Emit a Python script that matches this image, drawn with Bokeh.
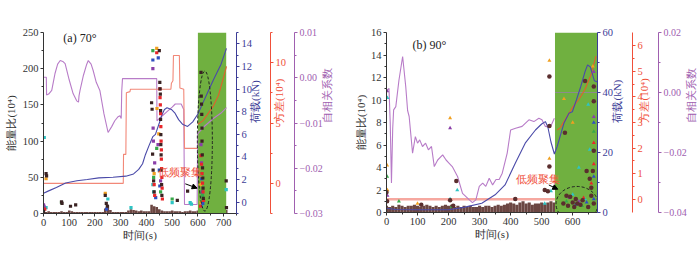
import math
from bokeh.plotting import figure
from bokeh.models import Range1d, LinearAxis, FixedTicker, Arrow, NormalHead, Label
from bokeh.layouts import row
from bokeh.embed import file_html
from bokeh.resources import INLINE

SERIF = "Liberation Serif"

# ---------------- Panel (a) 70 deg ----------------
a_bar_t = [0, 10, 20, 30, 40, 50, 60, 70, 80, 90,
           100, 110, 120, 130, 140, 150, 160, 170, 180, 190,
           200, 210, 220, 230, 240, 250, 260, 270, 280, 290,
           300, 310, 320, 330, 340, 350, 360, 370, 380, 390,
           400, 410, 420, 430, 440, 450, 460, 470, 480, 490,
           500, 510, 520, 530, 540, 550, 560, 570, 580, 590,
           600, 610, 620, 630, 640, 650, 660, 670, 680, 690, 700, 710]
a_bar_v = [4, 2, 3, 2, 2, 2, 2, 3, 2, 2,
           4, 3, 2, 2, 2, 2, 2, 2, 2, 2,
           2, 2, 2, 2, 7, 12, 5, 2, 2, 2,
           2, 2, 2, 4, 6, 5, 4, 3, 4, 3,
           3, 3, 12, 10, 9, 6, 4, 3, 3, 3,
           4, 3, 3, 3, 2, 3, 3, 4, 3, 3,
           4, 6, 5, 4, 3, 3, 3, 3, 3, 3, 3, 5]

a_dk_t = [0, 10, 12, 70, 72, 105, 125, 240, 244, 248, 420, 422, 424, 426, 428, 430,
          450, 452, 453, 454, 455, 455, 456, 456, 457, 458, 459, 460, 520, 560,
          612, 613, 614, 615, 616, 616, 617, 618, 619, 620, 621, 710, 711]
a_dk_v = [3, 55, 52, 16, 14, 10, 12, 25, 14, 10, 153, 144, 82, 60, 45, 30,
          225, 181, 172, 165, 142, 130, 109, 95, 81, 60, 40, 25, 18, 31,
          195, 162, 151, 137, 118, 100, 81, 63, 49, 35, 21, 45, 8]
a_rd_t = [440, 452, 453, 454, 455, 456, 457, 458, 458, 459, 460, 461, 462, 430, 432,
          612, 614, 616, 618, 620, 622, 610, 5]
a_rd_v = [222, 172, 160, 150, 138, 120, 100, 88, 75, 62, 50, 35, 20, 40, 25,
          80, 68, 55, 42, 30, 18, 10, 6]
a_bl_t = [425, 446, 450, 452, 436, 615, 617, 619, 0, 245]
a_bl_v = [212, 215, 60, 38, 22, 48, 30, 14, 8, 6]
a_gr_t = [425, 440, 500, 70, 615, 618, 0, 428, 455]
a_gr_v = [225, 90, 20, 15, 55, 25, 5, 50, 30]
a_pu_t = [425, 426, 427, 0, 2, 445, 612, 614, 455, 432]
a_pu_v = [200, 118, 100, 12, 10, 95, 95, 70, 45, 70]
a_or_t = [440, 441, 240, 10, 610, 612, 448, 430]
a_or_v = [228, 145, 28, 48, 40, 15, 110, 55]
a_cy_t = [3, 10, 340, 500, 570, 575, 710, 425, 428, 615, 250]
a_cy_v = [105, 8, 8, 15, 15, 13, 33, 40, 30, 10, 20]

a_load_t = [0, 20, 50, 86, 130, 170, 215, 270, 320, 350, 370, 385, 396, 410, 425, 435,
            450, 460, 470, 480, 497, 510, 525, 540, 560, 580, 600, 620, 640, 660, 690, 711]
a_load_v = [0.8, 1.0, 1.3, 1.7, 1.9, 2.0, 2.15, 2.2, 2.3, 2.5, 2.9, 3.4, 4.2, 5.0, 5.8, 6.0,
            7.0, 7.7, 8.2, 8.35, 8.2, 7.9, 7.3, 6.9, 6.7, 7.1, 7.8, 8.8, 9.8, 10.8, 12.2, 13.6]

a_var_t = [0, 310, 311, 320, 322, 336, 338, 495, 497, 503, 505, 528, 530, 545, 548, 597]
a_var_v = [0, 0, 2.4, 2.4, 7.5, 7.6, 7.8, 7.8, 8.3, 8.5, 10.6, 10.6, 7.9, 7.8, 2.9, 2.9]
a_var2_t = [600, 620, 640, 660, 680, 700, 711]
a_var2_v = [4.9, 5.2, 5.8, 6.4, 7.3, 8.8, 9.7]

a_ac_t = [0, 11, 12, 20, 32, 45, 55, 65, 75, 84, 100, 115, 129, 136, 138, 142, 155, 168, 174, 185,
          193, 205, 219, 235, 251, 265, 277, 290, 297, 302, 304, 307, 440, 441, 460, 480, 500, 512, 535, 545,
          548, 597, 599, 620, 640, 660, 690, 711]
a_ac_v = [0.0001, 0.0001, -0.0038, -0.0036, -0.0028, 0.0010, 0.0030, 0.0038, 0.0036, 0.0031,
          -0.0005, -0.0035, -0.0051, -0.0054, -0.0040, -0.0028, 0.0005, 0.0030, 0.0038, 0.0030,
          0.0016, -0.0010, -0.0028, -0.0080, -0.0121, -0.0108, -0.0095, -0.0086, -0.0084, -0.0090,
          -0.0030, -0.0002, -0.0002, -0.0095, -0.0085, -0.0075, -0.0065, -0.0058, -0.0058, -0.0070,
          -0.0280, -0.0280, -0.0124, -0.0110, -0.0100, -0.0090, -0.0078, -0.0066]

a_green = [600, 710]

# ---------------- Panel (b) 90 deg ----------------
b_bar_t = [0, 10, 20, 30, 40, 50, 60, 70, 80, 90,
           100, 110, 120, 130, 140, 150, 160, 170, 180, 190,
           200, 210, 220, 230, 240, 250, 260, 270, 280, 290,
           300, 310, 320, 330, 340, 350, 360, 370, 380, 390,
           400, 410, 420, 430, 440, 450, 460, 470, 480, 490,
           500, 510, 520, 530, 540, 550, 560, 570, 580, 590,
           600, 610, 620, 630, 640, 650, 660, 670, 680]
b_bar_v = [0.6, 0.5, 0.6, 0.5, 0.7, 0.6, 0.5, 0.6, 0.6, 0.7,
           0.6, 0.5, 0.6, 0.7, 0.6, 0.5, 0.6, 0.5, 0.6, 0.7,
           0.6, 0.7, 0.5, 0.6, 0.5, 0.6, 0.5, 0.6, 0.5, 0.5,
           0.6, 0.5, 0.6, 0.6, 0.5, 0.6, 0.7, 0.6, 0.7, 0.8,
           0.9, 0.8, 0.7, 0.9, 1.0, 0.8, 0.9, 0.7, 0.8, 0.8,
           0.9, 0.8, 0.9, 1.0, 0.9, 0.9, 0.7, 0.6, 0.5, 0.6,
           0.5, 0.6, 0.5, 0.6, 0.7, 0.5, 0.6, 0.5, 0.6]

b_dk_t = [0, 2, 112, 205, 215, 225, 415, 510, 520, 525, 525, 525, 575, 640, 645, 655, 660, 665, 668, 668,
          668, 668, 600, 610, 585, 592, 625, 632, 650, 605, 615, 580, 570, 660]
b_dk_v = [1.8, 1.0, 0.7, 1.1, 0.6, 2.8, 1.2, 2.0, 1.9, 12.1, 7.7, 4.1, 7.1, 11.7, 3.7, 3.0, 1.5, 3.7, 11.2, 9.9,
          5.5, 0.8, 0.9, 1.2, 0.6, 1.4, 0.7, 1.1, 0.5, 0.5, 0.8, 1.5, 0.8, 2.2]
b_or_t = [2, 205, 100, 525, 525, 572, 600, 665, 3]
b_or_v = [4.2, 8.4, 0.8, 13.5, 4.8, 10.1, 8.0, 13.0, 2.0]
b_pu_t = [2, 205, 668, 668, 590, 620, 3]
b_pu_v = [10.8, 7.5, 12.5, 8.5, 1.3, 1.0, 1.5]
b_cy_t = [3, 205, 228, 510, 620, 650, 655, 530, 600, 640]
b_cy_v = [10.2, 1.2, 2.0, 0.8, 4.0, 9.6, 5.6, 1.9, 1.6, 1.2]
b_gr_t = [2, 40, 668, 210, 580, 630]
b_gr_v = [3.2, 1.0, 7.2, 0.5, 1.0, 0.6]
b_bl_t = [668, 668, 668, 610, 645]
b_bl_v = [8.0, 3.2, 1.2, 0.7, 0.9]
b_rd_t = [668, 668, 660, 635]
b_rd_v = [6.2, 4.3, 2.6, 1.3]

b_load_t = [0, 30, 100, 200, 253, 307, 350, 382, 415, 447, 480, 500, 512, 520, 530, 541, 550, 572, 588, 599,
            612, 626, 640, 648, 657, 670, 680]
b_load_v = [1.4, 1.0, 0.9, 0.9, 1.8, 3.1, 5.9, 9.2, 16.4, 23.1, 27.5, 29.5, 30.3, 28.5, 23.5, 19.5, 22.0, 29.8, 33.1, 33.6,
            37.5, 42.0, 47.0, 49.2, 48.5, 43.9, 43.5]

b_var_t = [0, 543]
b_var_v = [0.0, 0.0]
b_var2_t = [550, 560, 580, 600, 620, 640, 660, 675]
b_var2_v = [2.7, 2.8, 3.2, 3.6, 3.9, 4.3, 4.9, 5.6]

b_ac_t = [0, 8, 12, 16, 20, 23, 30, 40, 52, 62, 68, 73, 84, 93, 100, 107, 116, 126, 135, 145,
          154, 165, 181, 192, 202, 212, 229, 245, 267, 277, 288, 299, 310, 320, 331, 342, 353, 363, 373, 389,
          400, 416, 437, 459, 475, 491, 501, 512, 528, 541]
b_ac_v = [0.0004, 0.0014, -0.010, -0.0302, -0.012, -0.0058, -0.0047, 0.004, 0.012, 0.002,
          -0.006, -0.008, -0.0202, -0.0147, -0.0169, -0.0158, -0.018, -0.0169, -0.0191, -0.018,
          -0.0247, -0.0225, -0.0208, -0.0225, -0.0236, -0.0247, -0.028, -0.0336, -0.0358, -0.0367,
          -0.0358, -0.0313, -0.0302, -0.0313, -0.0286, -0.0308, -0.029, -0.029, -0.0269, -0.0202,
          -0.0125, -0.0119, -0.0113, -0.0091, -0.0097, -0.0086, -0.0091, -0.0113, -0.0116, -0.0086]
b_ac2_t = [543, 680]
b_ac2_v = [0.0, 0.0]

b_green = [543, 680]

# ---------------- colours ----------------
C_AXIS = "#333333"
C_BLUE = "#3c3c96"
C_RED = "#f0503a"
C_PURP = "#a060b0"
C_BROWN = "#6b4642"
C_GREEN = "#70b040"
C_LBLUE = "#4a4aa8"
C_LPURP = "#b87cc8"
C_LRED = "#f28878"
C_DRED = "#e0602c"
S_DK = "#3a2222"
S_RD = "#e8262a"
S_BL = "#2f4fc0"
S_GR = "#37a84a"
S_PU = "#8a3fa8"
S_OR = "#f0a020"
S_CY = "#2ec4c4"


def base_axis(ax, color, label, ticks, minor, overrides=None, right=False, tick_size="10.5px"):
    ax.axis_label = label
    ax.axis_line_color = color
    ax.major_tick_line_color = color
    ax.minor_tick_line_color = color
    ax.major_label_text_color = color
    ax.axis_label_text_color = color
    ax.ticker = FixedTicker(ticks=ticks, minor_ticks=minor)
    ax.major_label_text_font = SERIF
    ax.major_label_text_font_size = tick_size
    ax.axis_label_text_font = SERIF
    ax.axis_label_text_font_size = "11px"
    ax.axis_label_text_font_style = "normal"
    ax.axis_label_text_line_height = 1.0
    ax.major_tick_out = 3
    ax.major_tick_in = 0
    ax.minor_tick_out = 2
    ax.minor_tick_in = 0
    ax.major_label_standoff = 2
    ax.axis_label_standoff = 1
    if right:
        ax.axis_label_orientation = math.pi / 2
    if overrides:
        ax.major_label_overrides = overrides


def make_fig(fw, fh, xr, yr, left, top, bottom, right):
    p = figure(frame_width=fw, frame_height=fh, x_range=Range1d(*xr), y_range=Range1d(*yr),
               output_backend="svg", toolbar_location=None,
               min_border_left=left, min_border_top=top, min_border_bottom=bottom, min_border_right=right)
    p.outline_line_color = None
    p.xgrid.visible = False
    p.ygrid.visible = False
    return p


def scatter_sets(p, sets, marker, size):
    for t, v, c in sets:
        p.scatter(t, v, marker=marker, size=size, fill_color=c, line_color=None)


# ================= figure a =================
pa = make_fig(193, 181, (0, 750), (0, 250), 43, 32, 44, 114)
pa.extra_y_ranges = {"load": Range1d(-1, 15), "var": Range1d(-2.5, 12.5), "ac": Range1d(-0.03, 0.01)}

base_axis(pa.xaxis[0], C_AXIS, "时间(s)", [0, 100, 200, 300, 400, 500, 600, 700],
          [50, 150, 250, 350, 450, 550, 650, 750])
pa.xaxis[0].axis_label_standoff = 0
base_axis(pa.yaxis[0], C_AXIS, "能量比(10⁴)", [0, 50, 100, 150, 200, 250],
          [25, 75, 125, 175, 225])
pa.yaxis[0].axis_label_standoff = 3

ax_l = LinearAxis(y_range_name="load")
base_axis(ax_l, C_BLUE, "荷载(kN)", [0, 2, 4, 6, 8, 10, 12, 14], [-1, 1, 3, 5, 7, 9, 11, 13, 15], right=True)
ax_l.axis_label_standoff = 0
pa.add_layout(ax_l, "right")
ax_v = LinearAxis(y_range_name="var")
base_axis(ax_v, C_RED, "方差(10⁴)", [0, 5, 10], [-2.5, 2.5, 7.5, 12.5], right=True)
ax_v.axis_label_standoff = -10
pa.add_layout(ax_v, "right")
ax_a = LinearAxis(y_range_name="ac")
base_axis(ax_a, C_PURP, "自相关系数", [-0.03, -0.02, -0.01, 0.0, 0.01],
          [-0.025, -0.015, -0.005, 0.005],
          overrides={-0.03: "−0.03", -0.02: "−0.02", -0.01: "−0.01", 0.0: "0.00", 0.01: "0.01"},
          right=True, tick_size="10px")
pa.add_layout(ax_a, "right")

pa.vbar(x=a_bar_t, top=a_bar_v, bottom=0, width=10, fill_color=C_BROWN, line_color=None)
pa.quad(left=[a_green[0]], right=[a_green[1]], bottom=[0], top=[250], fill_color=C_GREEN, line_color=None)
pa.line(a_ac_t, a_ac_v, y_range_name="ac", line_color=C_LPURP, line_width=1.1)
pa.line(a_var_t, a_var_v, y_range_name="var", line_color=C_LRED, line_width=1.1)
pa.line(a_var2_t, a_var2_v, y_range_name="var", line_color=C_DRED, line_width=1.1)
pa.line(a_load_t, a_load_v, y_range_name="load", line_color=C_LBLUE, line_width=1.1)
scatter_sets(pa, [(a_cy_t, a_cy_v, S_CY), (a_or_t, a_or_v, S_OR), (a_gr_t, a_gr_v, S_GR),
                  (a_bl_t, a_bl_v, S_BL), (a_pu_t, a_pu_v, S_PU), (a_rd_t, a_rd_v, S_RD),
                  (a_dk_t, a_dk_v, S_DK)], "square", 3.2)
pa.ellipse(x=[627], y=[100], width=15, height=140, width_units="screen", height_units="screen",
           fill_color=None, line_color="#222222", line_dash="3 2", line_width=1)
pa.add_layout(Arrow(end=NormalHead(size=5, fill_color="black", line_color="black"),
                    x_start=551, y_start=41, x_end=597, y_end=35, line_color="black", line_width=1))
pa.add_layout(Label(x=532, y=57, text="低频聚集", text_font=SERIF, text_font_size="11px",
                    text_color=C_RED, text_align="center", text_baseline="middle"))
pa.add_layout(Label(x=77, y=242, text="(a) 70°", text_font=SERIF, text_font_size="12px",
                    text_color="#222222", text_align="left", text_baseline="middle"))

# ================= figure b =================
pb = make_fig(211, 180, (0, 680), (0, 16), 36, 29, 48, 103)
pb.extra_y_ranges = {"load": Range1d(0, 60), "var": Range1d(-0.52, 6.52), "ac": Range1d(-0.04, 0.02)}

base_axis(pb.xaxis[0], C_AXIS, "时间(s)", [0, 100, 200, 300, 400, 500, 600],
          [50, 150, 250, 350, 450, 550, 650])
pb.xaxis[0].axis_label_standoff = 0
base_axis(pb.yaxis[0], C_AXIS, "能量比(10⁴)", [0, 2, 4, 6, 8, 10, 12, 14, 16],
          [1, 3, 5, 7, 9, 11, 13, 15])

bx_l = LinearAxis(y_range_name="load")
base_axis(bx_l, C_BLUE, "荷载(kN)", [0, 20, 40, 60], [10, 30, 50], right=True)
pb.add_layout(bx_l, "right")
bx_v = LinearAxis(y_range_name="var")
base_axis(bx_v, C_RED, "方差(10⁴)", [0, 1, 2, 3, 4, 5, 6], [0.5, 1.5, 2.5, 3.5, 4.5, 5.5], right=True)
bx_v.axis_label_standoff = -2
pb.add_layout(bx_v, "right")
bx_a = LinearAxis(y_range_name="ac")
base_axis(bx_a, C_PURP, "自相关系数", [-0.04, -0.02, 0.0, 0.02], [-0.03, -0.01, 0.01],
          overrides={-0.04: "−0.04", -0.02: "−0.02", 0.0: "0.00", 0.02: "0.02"},
          right=True, tick_size="10px")
pb.add_layout(bx_a, "right")

pb.vbar(x=b_bar_t, top=b_bar_v, bottom=0, width=10, fill_color=C_BROWN, line_color=None)
pb.quad(left=[b_green[0]], right=[b_green[1]], bottom=[0], top=[16], fill_color=C_GREEN, line_color=None)
pb.line(b_var_t, b_var_v, y_range_name="var", line_color="#f6a8a0", line_width=2.5)
pb.line(b_ac_t, b_ac_v, y_range_name="ac", line_color=C_LPURP, line_width=1.1)
pb.line(b_ac2_t, b_ac2_v, y_range_name="ac", line_color="#8c8c8c", line_width=1.2)
pb.line(b_var2_t, b_var2_v, y_range_name="var", line_color=C_DRED, line_width=1.1)
pb.line(b_load_t, b_load_v, y_range_name="load", line_color=C_LBLUE, line_width=1.1)
scatter_sets(pb, [(b_cy_t, b_cy_v, S_CY), (b_or_t, b_or_v, S_OR), (b_gr_t, b_gr_v, S_GR),
                  (b_bl_t, b_bl_v, S_BL), (b_pu_t, b_pu_v, S_PU), (b_rd_t, b_rd_v, S_RD)],
             "triangle", 4)
pb.scatter(b_dk_t, b_dk_v, marker="circle", size=4.5, fill_color="#5a2e2e", line_color=None)
pb.ellipse(x=[614], y=[0.76], width=42, height=35, width_units="screen", height_units="screen",
           fill_color=None, line_color="#222222", line_dash="3 2", line_width=1)
pb.add_layout(Arrow(end=NormalHead(size=5, fill_color="black", line_color="black"),
                    x_start=523, y_start=2.45, x_end=552, y_end=2.07, line_color="black", line_width=1))
pb.add_layout(Label(x=488, y=2.96, text="低频聚集", text_font=SERIF, text_font_size="11px",
                    text_color=C_RED, text_align="center", text_baseline="middle"))
pb.add_layout(Label(x=84, y=14.9, text="(b) 90°", text_font=SERIF, text_font_size="12px",
                    text_color="#222222", text_align="left", text_baseline="middle"))

layout = row(pa, pb)
open("out.html", "w").write(file_html(layout, INLINE))
